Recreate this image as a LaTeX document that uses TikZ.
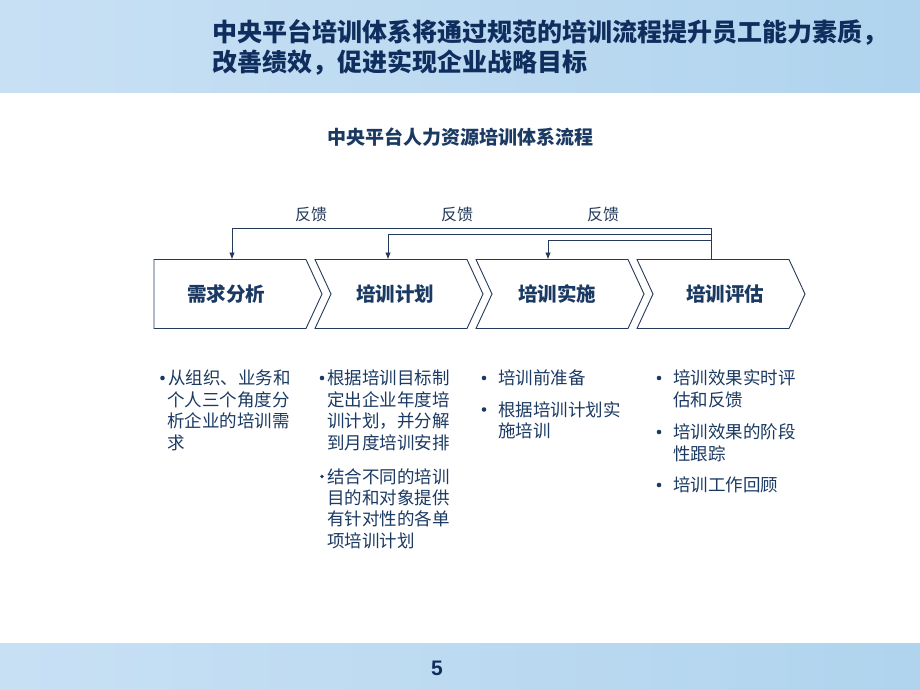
\documentclass[tikz,border=0pt]{standalone}
\usepackage{fontspec}
\setmainfont{Noto Sans CJK SC}
\newfontfamily\numfont{Liberation Sans}
\usetikzlibrary{arrows.meta}
\definecolor{navy}{HTML}{1B3A63}
\definecolor{titlec}{HTML}{0F2E5E}
\definecolor{linec}{HTML}{243A5A}
\definecolor{bandL}{HTML}{C8E0F4}
\definecolor{bandR}{HTML}{B0D4EE}
\tikzset{
  ln/.style={anchor=base west, inner sep=0pt, font=\fontsize{17.5}{21}\selectfont, text=navy},
  chev/.style={draw=linec, line width=0.9pt, fill=white},
  boxlbl/.style={inner sep=0pt, font=\fontsize{19.5}{22}\selectfont\bfseries, text=navy},
  fbl/.style={inner sep=0pt, anchor=base, font=\fontsize{16}{18}\selectfont, text=linec},
  fb/.style={draw=linec, line width=0.9pt, -{Latex[length=7pt,width=5.5pt]}},
  bul/.style={fill=navy}
}
\begin{document}
\begin{tikzpicture}[x=1pt,y=-1pt]
\useasboundingbox (0,0) rectangle (920,690);
\fill[white] (0,0) rectangle (920,690);
% bands
\shade[left color=bandL, right color=bandR] (0,0) rectangle (920,93);
\shade[left color=bandL, right color=bandR] (0,643) rectangle (920,690);
% title
\node[anchor=base west, inner sep=0pt, font=\fontsize{25}{30}\selectfont\bfseries, text=titlec] (title1) at (212,41.5) {中央平台培训体系将通过规范的培训流程提升员工能力素质，};
\node[anchor=base west, inner sep=0pt, font=\fontsize{25}{30}\selectfont\bfseries, text=titlec] (title2) at (212,71.5) {改善绩效，促进实现企业战略目标};
% subtitle
\node[anchor=base, inner sep=0pt, font=\fontsize{19}{22}\selectfont\bfseries, text=navy] (sub) at (460,144.2) {中央平台人力资源培训体系流程};
% chevrons
\path[chev] (154,259.5) -- (306,259.5) -- (322,294) -- (306,328.5) -- (154,328.5) -- cycle;
\foreach \L in {315,476,637}{
  \path[chev] (\L,259.5) -- (\L+152,259.5) -- (\L+168,294) -- (\L+152,328.5) -- (\L,328.5) -- (\L+16,294) -- cycle;
}
\node[boxlbl] (s1) at (226,294) {需求分析};
\node[boxlbl] (s2) at (395,294) {培训计划};
\node[boxlbl] (s3) at (557,294) {培训实施};
\node[boxlbl] (s4) at (725,294) {培训评估};
% feedback connectors
\coordinate (src) at (711,259.5);
\coordinate (a1) at (232,259.5);
\coordinate (a2) at (388,259.5);
\coordinate (a3) at (548,259.5);
\draw[fb] (src) -- (711,228) -| (a1);
\draw[fb] (src) -- (711,234) -| (a2);
\draw[fb] (src) -- (711,240) -| (a3);
\node[fbl] (f1) at (311,220) {反馈};
\node[fbl] (f2) at (457,220) {反馈};
\node[fbl] (f3) at (603,220) {反馈};
% column 1
\fill[bul] (162.5,378) circle (2.3);
\node[ln] (c1a) at (168,384.7) {从组织、业务和};
\node[ln] (c1b) at (167,406.2) {个人三个角度分};
\node[ln] (c1c) at (167,427.7) {析企业的培训需};
\node[ln] (c1d) at (167,449.2) {求};
% column 2
\fill[bul] (322,378) circle (2.3);
\node[ln] (c2a) at (327,384.7) {根据培训目标制};
\node[ln] (c2b) at (327,406.2) {定出企业年度培};
\node[ln] (c2c) at (327,427.7) {训计划，并分解};
\node[ln] (c2d) at (327,449.2) {到月度培训安排};
\fill[bul] (322,476.5) circle (1.8);
\node[ln] (c2e) at (327,483.2) {结合不同的培训};
\node[ln] (c2f) at (327,504.5) {目的和对象提供};
\node[ln] (c2g) at (327,525.8) {有针对性的各单};
\node[ln] (c2h) at (327,547.1) {项培训计划};
% column 3
\fill[bul] (484,378) circle (2.3);
\node[ln] (c3a) at (498,384.7) {培训前准备};
\fill[bul] (484,409.5) circle (2.3);
\node[ln] (c3b) at (498,416.2) {根据培训计划实};
\node[ln] (c3c) at (498,437.7) {施培训};
% column 4
\fill[bul] (659,378) circle (2.3);
\node[ln] (c4a) at (673,384.7) {培训效果实时评};
\node[ln] (c4b) at (673,406.2) {估和反馈};
\fill[bul] (659,432) circle (2.3);
\node[ln] (c4c) at (673,438.7) {培训效果的阶段};
\node[ln] (c4d) at (673,460.2) {性跟踪};
\fill[bul] (659,485) circle (2.3);
\node[ln] (c4e) at (673,491.7) {培训工作回顾};
% page number
\node[inner sep=0pt, font=\numfont\fontsize{21}{24}\selectfont\bfseries, text=titlec] (pg) at (437,668) {5};
\end{tikzpicture}
\end{document}
